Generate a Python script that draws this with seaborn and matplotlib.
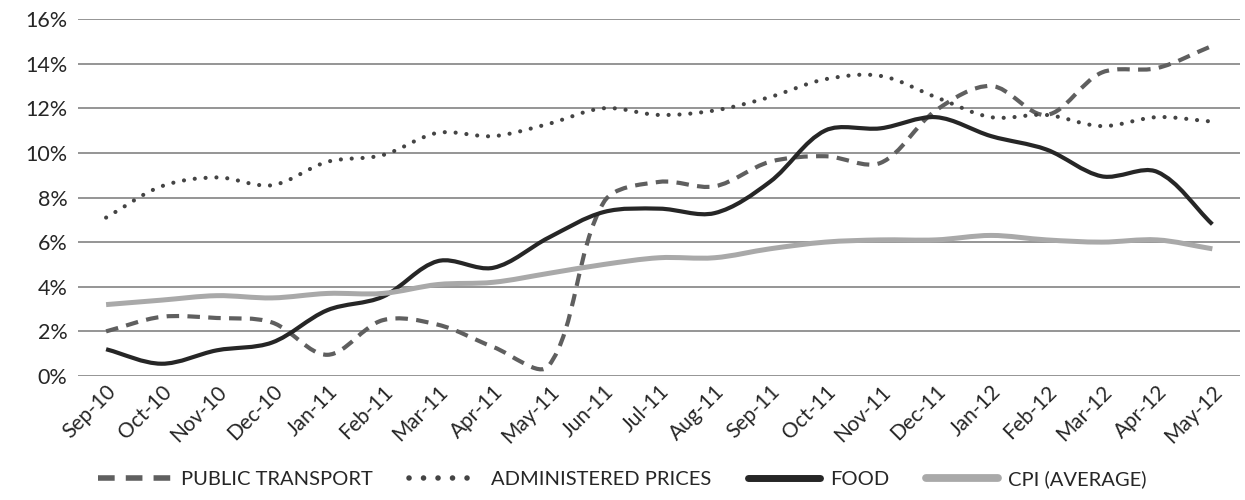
import numpy as np
import matplotlib
matplotlib.use("Agg")
import matplotlib.pyplot as plt
from matplotlib.path import Path
from matplotlib.patches import PathPatch
from matplotlib.lines import Line2D
import seaborn as sns

months = ["Sep-10", "Oct-10", "Nov-10", "Dec-10", "Jan-11", "Feb-11", "Mar-11",
          "Apr-11", "May-11", "Jun-11", "Jul-11", "Aug-11", "Sep-11", "Oct-11",
          "Nov-11", "Dec-11", "Jan-12", "Feb-12", "Mar-12", "Apr-12", "May-12"]

public_transport = [2.0, 2.65, 2.6, 2.4, 0.95, 2.5, 2.3, 1.3, 0.45, 7.8, 8.7,
                    8.5, 9.6, 9.85, 9.55, 11.9, 13.0, 11.7, 13.6, 13.8, 14.8]
administered = [7.1, 8.5, 8.9, 8.55, 9.6, 9.9, 10.9, 10.75, 11.3, 12.0, 11.7,
                11.9, 12.5, 13.3, 13.45, 12.5, 11.6, 11.7, 11.2, 11.6, 11.4]
food = [1.2, 0.55, 1.15, 1.5, 2.95, 3.55, 5.15, 4.85, 6.2, 7.35, 7.5,
        7.3, 8.7, 11.0, 11.1, 11.6, 10.75, 10.15, 8.95, 9.15, 6.8]
cpi = [3.2, 3.4, 3.6, 3.5, 3.7, 3.7, 4.1, 4.2, 4.6, 5.0, 5.3,
       5.3, 5.7, 6.0, 6.1, 6.1, 6.3, 6.1, 6.0, 6.1, 5.7]

series = [
    ("PUBLIC TRANSPORT", public_transport, "#5f5f5f", 3.0, (0, (3, 2))),
    ("ADMINISTERED PRICES", administered, "#444444", 3.0, (0, (0.01, 2.6))),
    ("FOOD", food, "#262626", 3.0, "solid"),
    ("CPI (AVERAGE)", cpi, "#a9a9a9", 3.6, "solid"),
]

sns.set_theme(style="white")
plt.rcParams['font.family'] = ['Lato', 'DejaVu Sans']

# rough pixel size of one x step / one y unit, used to weight the smoothing
XPX, YPX = 55.4, 22.25


def smooth_path(values):
    # Excel-like smoothed line: cubic Bezier segments through every point,
    # handle lengths weighted by neighbouring segment lengths
    pts = np.column_stack([np.arange(len(values)), np.asarray(values, float)])
    pad = np.vstack([pts[0], pts, pts[-1]])
    scale = np.array([XPX, YPX])

    def dist(a, b):
        return np.hypot(*((b - a) * scale)) + 1e-9

    verts = [pts[0]]
    codes = [Path.MOVETO]
    for i in range(len(pts) - 1):
        p0, p1, p2, p3 = pad[i], pad[i + 1], pad[i + 2], pad[i + 3]
        d01, d12, d23 = dist(p0, p1), dist(p1, p2), dist(p2, p3)
        c1 = p1 + (p2 - p0) * d12 / (d01 + d12) / 3
        c2 = p2 - (p3 - p1) * d12 / (d12 + d23) / 3
        verts += [c1, c2, p2]
        codes += [Path.CURVE4] * 3
    return Path(verts, codes)


fig, ax = plt.subplots(figsize=(12.45, 5.0), dpi=100)
fig.subplots_adjust(left=0.063, right=0.996, bottom=0.248, top=0.962)

handles = []
for name, vals, color, lw, ls in series:
    cap = "round" if name.startswith("ADMIN") else "butt"
    patch = PathPatch(smooth_path(vals), facecolor="none", edgecolor=color,
                      lw=lw, linestyle=ls, capstyle=cap, joinstyle="round", zorder=3)
    ax.add_patch(patch)
    handles.append(Line2D([0], [0], color=color, lw=lw + 1 if ls != "solid" else lw + 2,
                          linestyle=ls, dash_capstyle=cap, label=name))

ax.set_xlim(-0.5, len(months) - 0.5)
ax.set_ylim(0, 16)
ax.set_yticks(range(0, 17, 2))
ax.set_yticklabels([f"{v}%" for v in range(0, 17, 2)], fontsize=15.5)
ax.set_xticks(range(len(months)))
ax.set_xticklabels(months, rotation=45, ha="right", rotation_mode="anchor", fontsize=15)
ax.tick_params(axis="y", length=0, pad=8)
ax.tick_params(axis="x", length=0, pad=4)
ax.yaxis.grid(True, color="#8c8c8c", lw=1.3)
ax.set_axisbelow(True)
for s in ax.spines.values():
    s.set_visible(False)

fig.legend(handles=handles, loc="lower center", bbox_to_anchor=(0.5, -0.012), ncol=4,
           frameon=False, fontsize=14.5, handlelength=3.6, handletextpad=0.5,
           columnspacing=1.8)

fig.savefig("out.png", dpi=100)
